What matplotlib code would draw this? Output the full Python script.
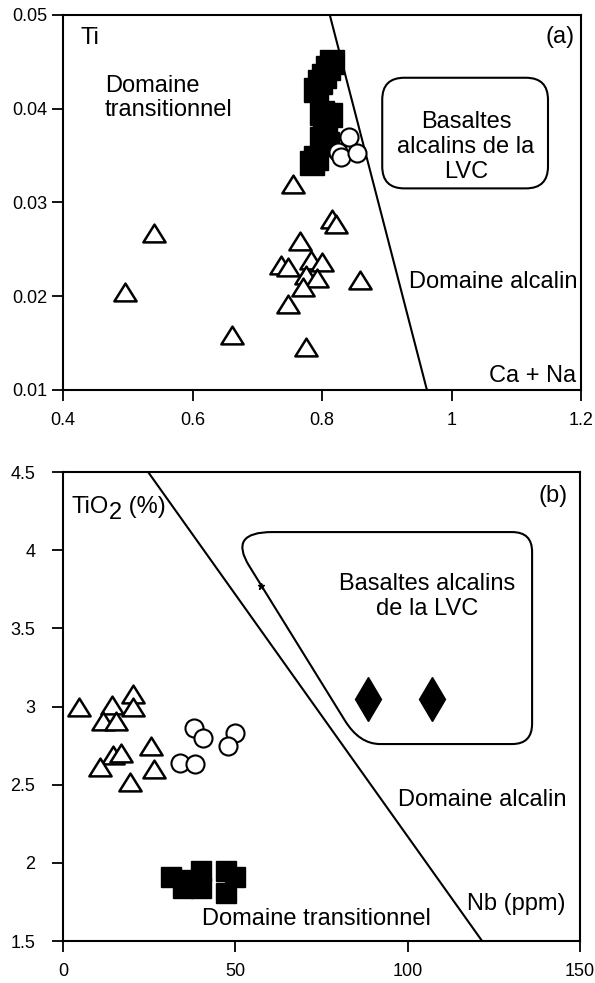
import matplotlib
matplotlib.use('Agg')
import matplotlib.pyplot as plt
from matplotlib.patches import FancyBboxPatch, PathPatch
from matplotlib.path import Path

plt.rcParams['font.family'] = ['Liberation Sans', 'DejaVu Sans']
plt.rcParams['mathtext.default'] = 'regular'

# ---- panel (a) : Ti vs Ca + Na ----
a_sq_x = [0.815, 0.810, 0.803, 0.797, 0.790, 0.800, 0.812, 0.805, 0.800, 0.807, 0.790, 0.785]
a_sq_y = [0.0450, 0.0443, 0.0435, 0.0428, 0.0420, 0.0395, 0.0393, 0.0380, 0.0368, 0.0362, 0.0347, 0.0342]
a_ci_x = [0.842, 0.824, 0.829, 0.854]
a_ci_y = [0.0370, 0.0354, 0.0349, 0.0353]
a_tr_x = [0.755, 0.541, 0.496, 0.661, 0.775, 0.815, 0.821, 0.766, 0.736, 0.748, 0.783,
          0.800, 0.776, 0.792, 0.771, 0.859, 0.748]
a_tr_y = [0.0320, 0.0267, 0.0204, 0.0159, 0.0146, 0.0282, 0.0277, 0.0259, 0.0233, 0.0231,
          0.0239, 0.0236, 0.0223, 0.0219, 0.0210, 0.0217, 0.0192]
a_line_x = [0.812, 0.962]
a_line_y = [0.05, 0.01]
a_box = (0.893, 0.0315, 1.149, 0.0433)  # x0, y0, x1, y1
a_xticks = [0.4, 0.6, 0.8, 1.0, 1.2]
a_xlabels = ['0.4', '0.6', '0.8', '1', '1.2']
a_yticks = [0.01, 0.02, 0.03, 0.04, 0.05]
a_ylabels = ['0.01', '0.02', '0.03', '0.04', '0.05']

# ---- panel (b) : TiO2 vs Nb ----
b_sq_x = [31.2, 36.0, 39.9, 39.9, 47.4, 50.0, 47.4, 34.9]
b_sq_y = [1.91, 1.89, 1.95, 1.84, 1.95, 1.91, 1.81, 1.84]
b_ci_x = [38.1, 40.5, 49.9, 48.0, 33.9, 38.3]
b_ci_y = [2.86, 2.80, 2.83, 2.75, 2.64, 2.63]
b_tr_x = [4.6, 14.3, 20.4, 20.4, 11.7, 15.3, 14.6, 16.7, 10.7, 25.4, 26.4, 19.4]
b_tr_y = [2.995, 3.01, 3.08, 3.00, 2.91, 2.91, 2.69, 2.70, 2.61, 2.75, 2.60, 2.52]
b_di_x = [88.5, 107.0]
b_di_y = [3.05, 3.05]
b_star = (57.5, 3.77)
b_line_x = [24.7, 121.6]
b_line_y = [4.5, 1.5]
# outline of the LVC field (corners as quadratic curves)
b_box_verts = [(54.0, 3.90), (47.9, 4.116), (60.6, 4.116),
               (130.3, 4.116), (136.1, 4.116), (136.1, 3.99),
               (136.1, 2.89), (136.1, 2.76), (130.3, 2.76),
               (92.0, 2.76), (86.0, 2.76), (81.8, 2.91),
               (54.0, 3.90)]
b_xticks = [0, 50, 100, 150]
b_yticks = [1.5, 2, 2.5, 3, 3.5, 4, 4.5]
b_ylabels = ['1.5', '2', '2.5', '3', '3.5', '4', '4.5']

tri = Path([(0, 0.8), (-1, -0.8), (1, -0.8), (0, 0.8)],
           [Path.MOVETO, Path.LINETO, Path.LINETO, Path.CLOSEPOLY])
txt = 17

fig = plt.figure(figsize=(5.95, 9.83), dpi=100)
ax1 = fig.add_axes([0.1059, 0.6033, 0.8706, 0.3815])
ax2 = fig.add_axes([0.1059, 0.0427, 0.8689, 0.4771])

for ax in (ax1, ax2):
    for s in ax.spines.values():
        s.set_linewidth(1.5)
    ax.tick_params(direction='out', length=8, width=1.3, labelsize=13)

# (a)
ax1.set_xlim(0.4, 1.2)
ax1.set_ylim(0.01, 0.05)
ax1.set_xticks(a_xticks)
ax1.set_xticklabels(a_xlabels)
ax1.set_yticks(a_yticks)
ax1.set_yticklabels(a_ylabels)
ax1.tick_params(axis='y', pad=3)
ax1.tick_params(axis='x', pad=8)
ax1.plot(a_line_x, a_line_y, color='black', lw=1.5, zorder=2)
sx = 0.8706 * 595 / 0.8
sy = 0.3815 * 983 / 0.04
r = 22 / sx
ax1.add_patch(FancyBboxPatch((a_box[0], a_box[1]), a_box[2] - a_box[0], a_box[3] - a_box[1],
                             boxstyle=f'round,pad=0,rounding_size={r}',
                             mutation_aspect=sx / sy, fc='none', ec='black', lw=1.5))
ax1.plot(a_tr_x, a_tr_y, ls='none', marker=tri, ms=16, mfc='white', mec='black', mew=1.8, zorder=3)
ax1.plot(a_sq_x, a_sq_y, ls='none', marker='s', ms=17, mfc='black', mec='black', zorder=4)
ax1.plot(a_ci_x, a_ci_y, ls='none', marker='o', ms=13, mfc='white', mec='black', mew=1.5, zorder=5)

ax1.text(0.033, 0.968, 'Ti', transform=ax1.transAxes, fontsize=txt, va='top', ha='left')
ax1.text(0.988, 0.94, '(a)', transform=ax1.transAxes, fontsize=txt, va='center', ha='right')
ax1.text(0.081, 0.778, 'Domaine\ntransitionnel', transform=ax1.transAxes, fontsize=txt,
         va='center', ha='left', linespacing=1.15)
ax1.text(0.778, 0.648, 'Basaltes\nalcalins de la\nLVC', transform=ax1.transAxes, fontsize=txt,
         va='center', ha='center', linespacing=1.2)
ax1.text(0.994, 0.288, 'Domaine alcalin', transform=ax1.transAxes, fontsize=txt,
         va='center', ha='right')
ax1.text(0.99, 0.037, 'Ca + Na', transform=ax1.transAxes, fontsize=txt, va='center', ha='right')

# (b)
ax2.set_xlim(0, 150)
ax2.set_ylim(1.5, 4.5)
ax2.set_xticks(b_xticks)
ax2.set_yticks(b_yticks)
ax2.set_yticklabels(b_ylabels)
ax2.tick_params(axis='y', pad=12)
ax2.tick_params(axis='x', pad=8)
ax2.plot(b_line_x, b_line_y, color='black', lw=1.5, zorder=2)
codes = [Path.MOVETO] + [Path.CURVE3, Path.CURVE3, Path.LINETO] * 4
ax2.add_patch(PathPatch(Path(b_box_verts, codes), fc='none', ec='black', lw=1.5, zorder=2))
ax2.plot(b_tr_x, b_tr_y, ls='none', marker=tri, ms=16, mfc='white', mec='black', mew=1.8, zorder=3)
ax2.plot(b_ci_x, b_ci_y, ls='none', marker='o', ms=13, mfc='white', mec='black', mew=1.5, zorder=4)
ax2.plot(b_sq_x, b_sq_y, ls='none', marker='s', ms=15, mfc='black', mec='black', zorder=4)
ax2.plot(b_di_x, b_di_y, ls='none', marker='d', ms=22, mfc='black', mec='black', zorder=4)
ax2.plot([b_star[0]], [b_star[1]], ls='none', marker='*', ms=5, color='black', zorder=4)

# TiO2 (%) with a full-size, lowered "2" as in the original
t1 = ax2.text(0.017, 0.925, 'TiO', transform=ax2.transAxes, fontsize=txt, va='center', ha='left')
t2 = ax2.annotate('2', xy=(1, 0.5), xycoords=t1, xytext=(0, -4), textcoords='offset points',
                  fontsize=txt, va='center', ha='left')
ax2.annotate(' (%)', xy=(1, 0.5), xycoords=(t2, t1), fontsize=txt, va='center', ha='left')
ax2.text(0.977, 0.949, '(b)', transform=ax2.transAxes, fontsize=txt, va='center', ha='right')
ax2.text(0.704, 0.735, 'Basaltes alcalins\nde la LVC', transform=ax2.transAxes, fontsize=txt,
         va='center', ha='center', linespacing=1.2)
ax2.text(0.81, 0.30, 'Domaine alcalin', transform=ax2.transAxes, fontsize=txt, va='center', ha='center')
ax2.text(0.971, 0.078, 'Nb (ppm)', transform=ax2.transAxes, fontsize=txt, va='center', ha='right')
ax2.text(0.491, 0.047, 'Domaine transitionnel', transform=ax2.transAxes, fontsize=txt,
         va='center', ha='center')

fig.savefig('out.png', dpi=100)
